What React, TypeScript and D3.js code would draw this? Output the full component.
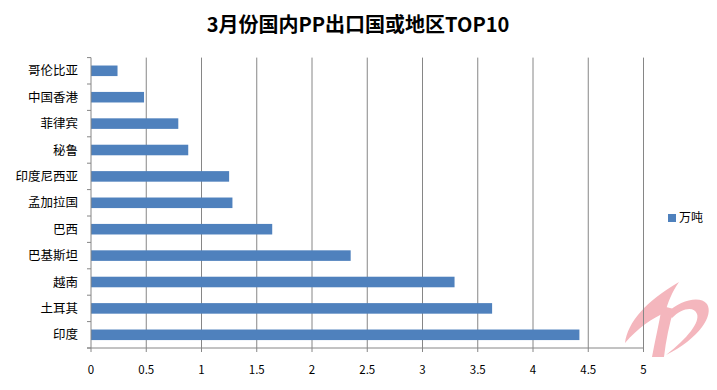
import React from 'react'
import * as d3 from 'd3'

const title = '3月份国内PP出口国或地区TOP10'
const seriesName = '万吨'
const categories = ['哥伦比亚', '中国香港', '菲律宾', '秘鲁', '印度尼西亚', '孟加拉国', '巴西', '巴基斯坦', '越南', '土耳其', '印度']
const values = [0.24, 0.48, 0.79, 0.88, 1.25, 1.28, 1.64, 2.35, 3.29, 3.63, 4.42]
const xTicks = [0, 0.5, 1, 1.5, 2, 2.5, 3, 3.5, 4, 4.5, 5]

const W = 717
const H = 390
const plot = { left: 91, right: 643.5, top: 57.6, bottom: 348 }
const barColor = '#4f81bd'
const gridColor = '#868686'
const font = '"Noto Sans CJK SC", "Noto Sans", sans-serif'

const App = () => {
    const x = d3.scaleLinear().domain([0, 5]).range([plot.left, plot.right])
    const y = d3.scaleBand<string>()
        .domain(categories)
        .range([plot.top, plot.bottom])
        .paddingInner(0.6)
        .paddingOuter(0.3)
    const step = y.step()
    const bounds = d3.range(categories.length + 1).map(i => plot.top + i * step)

    return (
        <svg width={W} height={H} style={{ position: 'absolute', left: 0, top: 0, background: '#fff' }} fontFamily={font}>
            {/* watermark logo */}
            <g fill="#f4b6bd">
                <path d="M625,343 C628,322 645,302 679,282 C672,292 668,302 665,313 C652,318 638,328 625,343 Z" />
                <path d="M662,306 C659,324 655,340 652,357 L664,357 C666,340 669,325 674,309 Z" />
                <path d="M667,313 C680,300 700,295 707,304 C714,315 700,338 666,355 C688,338 700,322 697,314 C694,306 682,308 672,318 Z" />
            </g>

            <text x={358} y={32} textAnchor="middle" fontSize={20} fontWeight="bold" fill="#000">{title}</text>

            {/* gridlines */}
            {xTicks.map(t => (
                <g key={t}>
                    {t > 0 && <line x1={x(t)} x2={x(t)} y1={plot.top} y2={plot.bottom} stroke={gridColor} strokeWidth={1} />}
                    <line x1={x(t)} x2={x(t)} y1={plot.bottom} y2={plot.bottom + 4} stroke={gridColor} />
                    <text x={x(t)} y={374} textAnchor="middle" fontSize={11.5} fill="#000">{t}</text>
                </g>
            ))}

            {/* bars */}
            {categories.map((c, i) => (
                <rect key={c} x={x(0)} y={y(c)} width={x(values[i]) - x(0)} height={y.bandwidth()} fill={barColor} />
            ))}

            {/* axes */}
            <line x1={plot.left} x2={plot.left} y1={plot.top} y2={plot.bottom} stroke={gridColor} />
            <line x1={plot.left - 4} x2={plot.right} y1={plot.bottom} y2={plot.bottom} stroke={gridColor} />
            {bounds.map((b, i) => (
                <line key={i} x1={plot.left - 4} x2={plot.left} y1={b} y2={b} stroke={gridColor} />
            ))}
            {categories.map(c => (
                <text key={c} x={78} y={(y(c) ?? 0) + y.bandwidth() / 2 + 4.5} textAnchor="end" fontSize={12.5} fill="#000">{c}</text>
            ))}

            {/* legend */}
            <rect x={668} y={214} width={8} height={8} fill={barColor} />
            <text x={679} y={222} fontSize={12} fill="#000">{seriesName}</text>
        </svg>
    )
}

export default App
